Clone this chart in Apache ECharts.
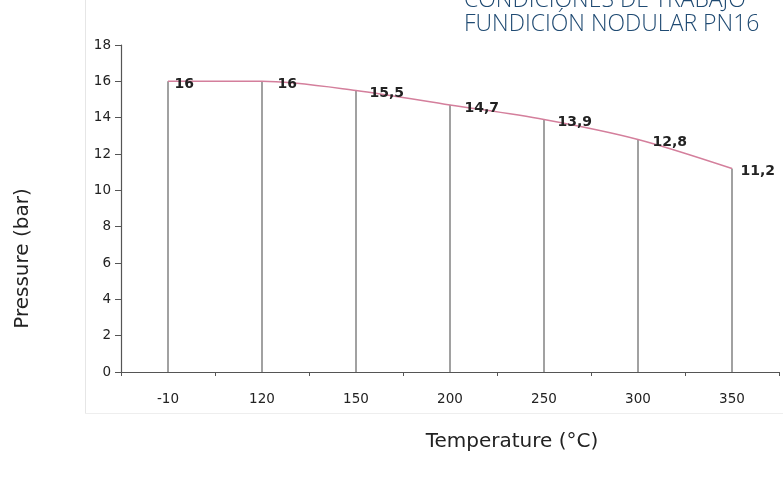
<!DOCTYPE html>
<html>
<head>
<meta charset="utf-8">
<script src="https://cdn.jsdelivr.net/npm/echarts@6/dist/echarts.min.js"></script>
<style>
  html, body { margin: 0; padding: 0; background: #fff; }
  #chart { width: 783px; height: 484px; }
</style>
</head>
<body>
<div id="chart"></div>
<script>
// temperatures (°C) and max pressure (bar)
var temps = ['-10', '120', '150', '200', '250', '300', '350'];
var pressures = [16, 16, 15.5, 14.7, 13.9, 12.8, 11.2];
var labelGap = [6, 15, 13, 14, 13, 14, 8];

var font = '"DejaVu Sans", "Liberation Sans", sans-serif';

var chart = echarts.init(document.getElementById('chart'));

var lineData = pressures.map(function (v, i) {
  return { value: v, label: { distance: labelGap[i] } };
});

var option = {
  animation: false,
  title: {
    text: 'CONDICIONES DE TRABAJO\nFUNDICIÓN NODULAR PN16',
    left: 459,
    top: -17,
    textStyle: {
      fontFamily: '"Open Sans", "Liberation Sans", sans-serif',
      fontWeight: 300,
      fontSize: 23,
      lineHeight: 24,
      color: '#1f4a72'
    }
  },
  graphic: [
    { type: 'line', shape: { x1: 85.5, y1: 0, x2: 85.5, y2: 413 }, style: { stroke: '#e6e6e6', lineWidth: 1 } },
    { type: 'line', shape: { x1: 85, y1: 413.5, x2: 783, y2: 413.5 }, style: { stroke: '#eeeeee', lineWidth: 1 } }
  ],
  grid: { left: 121, right: 4, top: 45, bottom: 112 },
  xAxis: {
    type: 'category',
    data: temps,
    boundaryGap: true,
    name: 'Temperature (°C)',
    nameLocation: 'middle',
    nameGap: 60,
    nameTextStyle: { fontFamily: font, fontSize: 20, color: '#222', padding: [0, 0, 0, 124] },
    axisLine: { lineStyle: { color: '#555', width: 1.2 } },
    axisTick: { show: true, length: 4, lineStyle: { color: '#555' } },
    axisLabel: { fontFamily: font, fontSize: 13.5, color: '#222', margin: 20 }
  },
  yAxis: {
    type: 'value',
    min: 0,
    max: 18,
    interval: 2,
    name: 'Pressure (bar)',
    nameLocation: 'middle',
    nameGap: 88,
    nameTextStyle: { fontFamily: font, fontSize: 20, color: '#222', padding: [0, 100, 0, 0] },
    splitLine: { show: false },
    axisLine: { show: true, lineStyle: { color: '#555', width: 1.2 } },
    axisTick: { show: true, length: 6, lineStyle: { color: '#555' } },
    axisLabel: { fontFamily: font, fontSize: 13.5, color: '#222', margin: 10 }
  },
  series: [
    {
      type: 'bar',
      data: pressures,
      barWidth: 1,
      itemStyle: { color: '#444' },
      silent: true
    },
    {
      type: 'line',
      data: lineData,
      smooth: 0.3,
      symbol: 'circle',
      symbolSize: 1,
      showSymbol: true,
      itemStyle: { color: 'rgba(0,0,0,0)' },
      lineStyle: { color: '#d47f9c', width: 1.5 },
      label: {
        show: true,
        position: 'right',
        offset: [0, 3],
        fontFamily: font,
        fontSize: 14,
        fontWeight: 'bold',
        color: '#222',
        formatter: function (p) { return String(p.value).replace('.', ','); }
      }
    }
  ]
};

chart.setOption(option);
</script>
</body>
</html>
